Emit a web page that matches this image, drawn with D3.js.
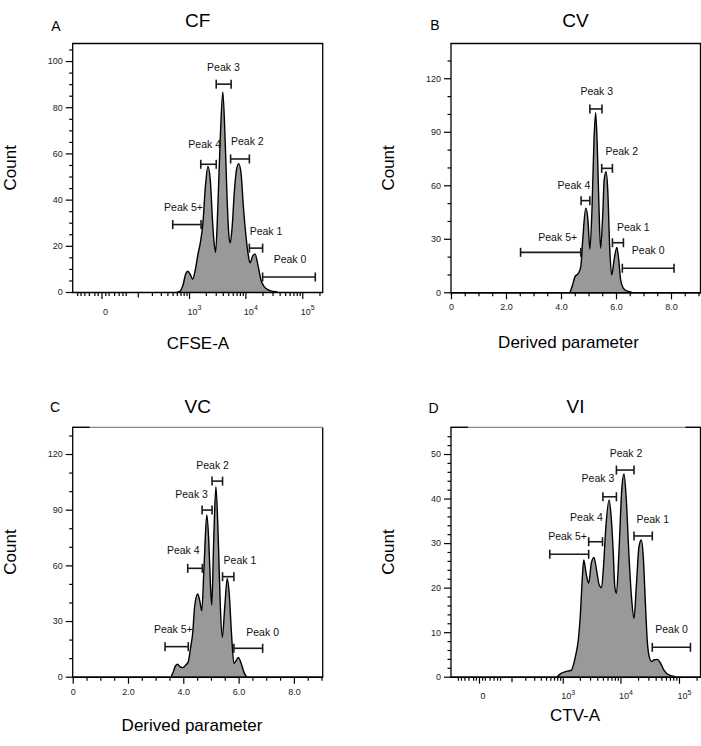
<!DOCTYPE html>
<html><head><meta charset="utf-8">
<script src="https://cdn.jsdelivr.net/npm/d3@7"></script>
<style>
body{margin:0;background:#fff}
svg text{font-family:"Liberation Sans",Arial,Helvetica,sans-serif}
</style>
</head><body>
<svg id="chart" width="701" height="746"></svg>
<script>
// ---------- text ----------
const panelLetters = ["A", "B", "C", "D"];
const panelTitles = ["CF", "CV", "VC", "VI"];
const xTitles = ["CFSE-A", "Derived parameter", "Derived parameter", "CTV-A"];
const yTitle = "Count";
const gateNames = ["Peak 5+", "Peak 4", "Peak 3", "Peak 2", "Peak 1", "Peak 0"];

// ---------- A: CF (CFSE-A, biexponential axis) ----------
const cfX = [600, 649, 775, 875, 948, 1071, 1161, 1291, 1456, 1603, 1782, 1963, 2182, 2405, 2606, 2780, 2978, 3268, 3597, 3998, 4404, 4775, 5096, 5395, 5846, 6416, 7036, 7624, 8406, 9229, 10285, 11150, 12085, 13420, 14790, 16430, 18850, 21530, 26340, 36840];
const cfCount = [0, 0, 2.9, 8.0, 9.0, 7.2, 5.5, 9.4, 16.6, 21.6, 30.3, 45.5, 54.4, 48.4, 32.5, 22.4, 17.2, 36.8, 65.7, 86.6, 65.7, 39.7, 25.3, 21.2, 28.1, 44, 53.4, 55.6, 51.3, 36.8, 23.8, 16.6, 12.6, 15.5, 16.5, 12.3, 5.1, 2.2, 0.7, 0];
const cfGateLo = [503, 1624, 3060, 5500, 11750, 20100];
const cfGateHi = [1645, 3060, 5610, 11750, 20100, 169000];
const cfGateY = [29.2, 55.3, 90, 57.6, 19.0, 6.5];
const cfLabelX = [794, 1910, 4110, 10835, 23050, 60800];
const cfLabelY = [36.8, 63.8, 97.1, 65.1, 26.4, 14.2];
const cfYTicks = [0, 20, 40, 60, 80, 100];

// ---------- B: CV (derived parameter) ----------
const cvX = [4.33, 4.42, 4.51, 4.63, 4.72, 4.79, 4.90, 4.98, 5.05, 5.13, 5.20, 5.26, 5.32, 5.38, 5.44, 5.52, 5.57, 5.64, 5.70, 5.77, 5.84, 5.93, 6.03, 6.10, 6.17, 6.27, 6.41, 6.57];
const cvCount = [0, 4.1, 8.8, 10.6, 14.4, 29.3, 47.1, 40.5, 24.1, 48, 85.4, 100.7, 81.7, 48, 24.7, 44.3, 63, 67.6, 57.4, 25.6, 9.7, 18.1, 25.2, 18.1, 6.9, 2.2, 0.6, 0];
const cvGateLo = [2.53, 4.73, 5.05, 5.48, 5.87, 6.23];
const cvGateHi = [4.72, 5.05, 5.49, 5.87, 6.27, 8.11];
const cvGateY = [22.4, 51.4, 102.8, 69.5, 27.8, 13.5];
const cvLabelX = [3.88, 4.47, 5.30, 6.21, 6.63, 7.17];
const cvLabelY = [30.8, 60.2, 112.5, 78.9, 36.5, 23.4];
const cvYTicks = [0, 30, 60, 90, 120];

// ---------- C: VC (derived parameter) ----------
const vcX = [3.56, 3.64, 3.72, 3.80, 3.88, 3.98, 4.09, 4.18, 4.27, 4.34, 4.41, 4.52, 4.59, 4.67, 4.75, 4.85, 4.92, 4.98, 5.03, 5.10, 5.18, 5.27, 5.34, 5.41, 5.50, 5.59, 5.66, 5.75, 5.83, 5.91, 5.99, 6.06, 6.13, 6.21, 6.29];
const vcCount = [0, 2.7, 5.9, 6.7, 5.4, 4.9, 6.3, 8.1, 16.2, 23.4, 37.7, 44.6, 41.3, 35.6, 59.3, 87.1, 73.7, 50.3, 38.6, 73.7, 102.4, 71.9, 37.7, 21.2, 37.7, 53, 44.9, 21.6, 7.2, 8.6, 10.4, 8.6, 5.4, 1.8, 0];
const vcGateLo = [3.34, 4.16, 4.68, 5.04, 5.42, 5.83];
const vcGateHi = [4.18, 4.69, 5.04, 5.42, 5.83, 6.87];
const vcGateY = [16.2, 58.4, 89.8, 105.4, 53.9, 15.3];
const vcLabelX = [3.64, 4.0, 4.30, 5.06, 6.05, 6.87];
const vcLabelY = [25.5, 67.9, 98.3, 114.1, 62.9, 23.7];
const vcYTicks = [0, 30, 60, 90, 120];

// ---------- D: VI (CTV-A, biexponential axis) ----------
const viX = [791, 935, 1094, 1423, 1621, 1732, 1874, 2028, 2193, 2334, 2563, 2840, 3157, 3510, 3880, 4315, 4730, 5116, 5623, 6400, 6918, 7482, 7998, 8520, 9460, 10520, 11500, 12590, 14010, 15590, 17050, 18660, 20750, 22700, 24540, 26550, 28700, 31050, 34110, 37300, 42540, 48540, 55330, 67300, 87500];
const viCount = [0, 0.75, 1.1, 1.5, 3.75, 5.5, 8.2, 13.5, 21.7, 26.2, 23.2, 21.0, 25.5, 26.8, 24.0, 20.6, 20.0, 24.7, 33.7, 39.7, 36.0, 28.5, 20.2, 18.7, 28.5, 42, 45.5, 39.7, 27, 17.2, 13.1, 20.2, 29.2, 30.7, 27, 17.2, 8.2, 4.5, 3.4, 3.75, 3.9, 3.0, 1.5, 0.4, 0];
const viGateLo = [585, 2840, 5000, 8520, 17050, 35000];
const viGateHi = [2840, 4920, 8520, 17050, 35000, 157000];
const viGateY = [27.5, 30.3, 40.4, 46.4, 31.6, 6.6];
const viLabelX = [1216, 2594, 4100, 12450, 35650, 74800];
const viLabelY = [31.5, 35.8, 44.5, 50.2, 35.4, 10.7];
const viYTicks = [0, 10, 20, 30, 40, 50];

// ---------- axis tick labels ----------
const linXTicks = [0, 2, 4, 6, 8];
const linXTickLabels = ["0", "2.0", "4.0", "6.0", "8.0"];
const logXTicks = [0, 1e3, 1e4, 1e5];
const logXTickLabels = [["0", ""], ["10", "3"], ["10", "4"], ["10", "5"]];
const logXMinorNearZero = [-50, -40, -30, -20, -10, -5, 5, 10, 20, 30, 40, 50];
const logXMidTicks = [-100, 100];
const logXMinorDecades = [100, 1000, 10000, 100000];
const logXMinorMult = [2, 3, 4, 5, 6, 7, 8, 9];

// ---------- layout ----------
const svg = d3.select("#chart");
const FONT = '"Liberation Sans",Arial,Helvetica,sans-serif';

const panels = [
  {id: "A", L: 72.7, T: 43.5, R: 322.7, B: 292.0, log: true, c: 30, xd: [-66, 228000], ymax: 107.6,
   xs: cfX, ys: cfCount, gLo: cfGateLo, gHi: cfGateHi, gY: cfGateY, lX: cfLabelX, lY: cfLabelY, yTicks: cfYTicks, yMinorStep: 5,
   grayTop: false, titleY: 26.5, letterX: 56, letterY: 30.5, xTitleX: 198, xTitleY: 349},
  {id: "B", L: 451, T: 43.5, R: 700.5, B: 292.3, log: false, xd: [0, 9.073], ymax: 139.5,
   xs: cvX, ys: cvCount, gLo: cvGateLo, gHi: cvGateHi, gY: cvGateY, lX: cvLabelX, lY: cvLabelY, yTicks: cvYTicks, yMinorStep: 10,
   grayTop: false, titleY: 27, letterX: 435, letterY: 30, xTitleX: 568.5, xTitleY: 348},
  {id: "C", L: 72.7, T: 427.3, R: 322.7, B: 676.7, log: false, xd: [0, 9.042], ymax: 134.4,
   xs: vcX, ys: vcCount, gLo: vcGateLo, gHi: vcGateHi, gY: vcGateY, lX: vcLabelX, lY: vcLabelY, yTicks: vcYTicks, yMinorStep: 10,
   grayTop: true, titleY: 412.5, letterX: 55, letterY: 412, xTitleX: 192, xTitleY: 730.5},
  {id: "D", L: 451, T: 427.3, R: 700.5, B: 676.7, log: true, c: 38.7, xd: [-77.6, 233000], ymax: 56,
   xs: viX, ys: viCount, gLo: viGateLo, gHi: viGateHi, gY: viGateY, lX: viLabelX, lY: viLabelY, yTicks: viYTicks, yMinorStep: 2,
   grayTop: true, titleY: 412.7, letterX: 433.5, letterY: 412.7, xTitleX: 575, xTitleY: 721}
];

panels.forEach((p, i) => drawPanel(p, i));

function tickGroup(parent, transform, axis) {
  const gr = parent.append("g").attr("transform", transform).call(axis);
  gr.selectAll(".domain").remove();
  gr.selectAll("line").attr("stroke", "#000").attr("stroke-width", 1.2);
  gr.selectAll("text").attr("font-size", 9).attr("font-family", FONT).attr("fill", "#222");
  return gr;
}

function drawPanel(p, i) {
  const g = svg.append("g");
  const x = p.log
    ? d3.scaleSymlog().constant(p.c).domain(p.xd).range([p.L, p.R])
    : d3.scaleLinear().domain(p.xd).range([p.L, p.R]);
  const y = d3.scaleLinear().domain([0, p.ymax]).range([p.B, p.T]);

  const cid = "clip" + p.id;
  svg.append("clipPath").attr("id", cid).append("rect")
    .attr("x", p.L).attr("y", p.T).attr("width", p.R - p.L).attr("height", p.B - p.T);

  const data = p.xs.map((v, k) => [v, p.ys[k]]);
  const area = d3.area().x(d => x(d[0])).y0(y(0)).y1(d => y(d[1])).curve(d3.curveMonotoneX);
  const line = d3.line().x(d => x(d[0])).y(d => y(d[1])).curve(d3.curveMonotoneX);
  g.append("path").attr("d", area(data)).attr("fill", "#999").attr("clip-path", `url(#${cid})`);
  g.append("path").attr("d", line(data)).attr("fill", "none").attr("stroke", "#000")
    .attr("stroke-width", 1.4).attr("stroke-linejoin", "round").attr("clip-path", `url(#${cid})`);

  // gates
  const gg = g.append("g").attr("stroke", "#1a1a1a").attr("stroke-width", 1.6);
  gateNames.forEach((name, k) => {
    const x0 = x(p.gLo[k]), x1 = x(p.gHi[k]), yy = y(p.gY[k]);
    gg.append("line").attr("x1", x0).attr("x2", x1).attr("y1", yy).attr("y2", yy);
    gg.append("line").attr("x1", x0).attr("x2", x0).attr("y1", yy - 4.5).attr("y2", yy + 4.5);
    gg.append("line").attr("x1", x1).attr("x2", x1).attr("y1", yy - 4.5).attr("y2", yy + 4.5);
    g.append("text").attr("x", x(p.lX[k])).attr("y", y(p.lY[k])).attr("dy", "0.35em")
      .attr("text-anchor", "middle").attr("font-size", 10.5).attr("fill", "#111").text(name);
  });

  // frame
  const fr = g.append("g").attr("fill", "none");
  fr.append("line").attr("x1", p.L).attr("x2", p.L).attr("y1", p.T).attr("y2", p.B).attr("stroke", "#000").attr("stroke-width", 1.3);
  fr.append("line").attr("x1", p.R).attr("x2", p.R).attr("y1", p.T).attr("y2", p.B).attr("stroke", "#000").attr("stroke-width", 1.3);
  fr.append("line").attr("x1", p.L - 0.6).attr("x2", p.R + 0.6).attr("y1", p.B + 0.5).attr("y2", p.B + 0.5).attr("stroke", "#000").attr("stroke-width", 1.7);
  if (p.grayTop) {
    fr.append("line").attr("x1", p.L).attr("x2", p.R).attr("y1", p.T).attr("y2", p.T).attr("stroke", "#8a8a8a").attr("stroke-width", 1.2);
    fr.append("line").attr("x1", p.L - 0.6).attr("x2", p.L + 17).attr("y1", p.T).attr("y2", p.T).attr("stroke", "#000").attr("stroke-width", 1.3);
    if (p.id === "D") fr.append("line").attr("x1", p.R - 15).attr("x2", p.R + 0.6).attr("y1", p.T).attr("y2", p.T).attr("stroke", "#000").attr("stroke-width", 1.3);
  } else {
    fr.append("line").attr("x1", p.L - 0.6).attr("x2", p.R + 0.6).attr("y1", p.T).attr("y2", p.T).attr("stroke", "#000").attr("stroke-width", 1.3);
  }

  // y axis
  const yMinor = d3.range(p.yMinorStep, p.ymax, p.yMinorStep).filter(v => !p.yTicks.includes(v));
  tickGroup(g, `translate(${p.L},0)`, d3.axisLeft(y).tickValues(yMinor).tickSize(3.5).tickFormat(""));
  tickGroup(g, `translate(${p.L},0)`, d3.axisLeft(y).tickValues(p.yTicks).tickSize(7).tickPadding(3));

  // x axis
  const xt = `translate(0,${p.B + 0.5})`;
  if (p.log) {
    let minor = logXMinorNearZero.slice();
    logXMinorDecades.forEach(dec => logXMinorMult.forEach(m => minor.push(dec * m)));
    minor = minor.filter(v => v > p.xd[0] && v < p.xd[1]);
    const mid = logXMidTicks.filter(v => v > p.xd[0]);
    tickGroup(g, xt, d3.axisBottom(x).tickValues(minor).tickSize(3.5).tickFormat(""));
    tickGroup(g, xt, d3.axisBottom(x).tickValues(mid).tickSize(5).tickFormat(""));
    const xa = tickGroup(g, xt, d3.axisBottom(x).tickValues(logXTicks).tickSize(6.5).tickFormat(""));
    logXTicks.forEach((v, k) => {
      const lab = logXTickLabels[k];
      const t = xa.append("text").attr("y", 22).attr("font-size", 9).attr("fill", "#222").attr("font-family", FONT);
      if (lab[1] === "") {
        t.attr("x", x(v) + 4).attr("text-anchor", "middle").text(lab[0]);
      } else {
        t.attr("x", x(v) - 1.5).attr("text-anchor", "start");
        t.append("tspan").text(lab[0]);
        t.append("tspan").attr("dy", -4.5).attr("font-size", 7).text(lab[1]);
      }
    });
  } else {
    const minor = d3.range(0.5, p.xd[1], 0.5).filter(v => !linXTicks.includes(v));
    tickGroup(g, xt, d3.axisBottom(x).tickValues(minor).tickSize(3.5).tickFormat(""));
    const xa = tickGroup(g, xt, d3.axisBottom(x).tickValues(linXTicks).tickSize(6.5).tickFormat((d, k) => linXTickLabels[k]));
    xa.selectAll("text").attr("y", 17.5).attr("dy", 0);
  }

  // titles
  svg.append("text").attr("x", (p.L + Math.min(p.R, 700)) / 2).attr("y", p.titleY)
    .attr("text-anchor", "middle").attr("font-size", 19).attr("fill", "#000").text(panelTitles[i]);
  svg.append("text").attr("x", p.letterX).attr("y", p.letterY)
    .attr("text-anchor", "middle").attr("font-size", 14).attr("fill", "#000").text(panelLetters[i]);
  svg.append("text").attr("x", p.xTitleX).attr("y", p.xTitleY)
    .attr("text-anchor", "middle").attr("font-size", 17).attr("fill", "#000").text(xTitles[i]);
  svg.append("text").attr("transform", `translate(${p.L - 63},${(p.T + p.B) / 2}) rotate(-90)`)
    .attr("dy", "0.35em").attr("text-anchor", "middle").attr("font-size", 17).attr("fill", "#000").text(yTitle);
}
</script>
</body></html>
